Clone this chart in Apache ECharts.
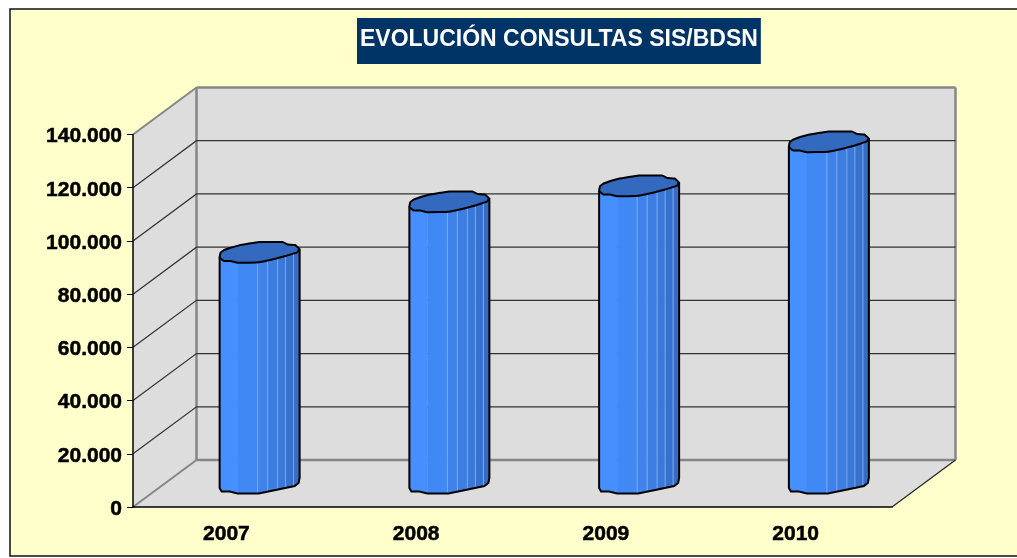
<!DOCTYPE html>
<html><head><meta charset="utf-8">
<style>html,body{margin:0;padding:0;background:#fff}#c{width:1017px;height:558px}</style>
<script src="https://cdn.jsdelivr.net/npm/echarts@6/dist/echarts.min.js"></script>
</head><body><div id="c"></div>
<script>
const titleText = 'EVOLUCIÓN CONSULTAS SIS/BDSN';
const categories = ['2007','2008','2009','2010'];
const consultas = [86800,105800,111800,128350];
const yTicks = [0,20000,40000,60000,80000,100000,120000,140000];
const FONT = '"Liberation Sans", Arial, sans-serif';
const DX = 63.5, DY = -47;           // depth of the 3D box
// column outline, relative to the column centre
const topOutline = [[-40,4.5],[-39,0],[-35.5,-2.5],[-20.5,-7.2],[-0.5,-10.5],[23,-10.5],[28,-8],[35.5,-7.5],[39.5,-4],[38,-0.5],[26,3.5],[-1,9.8],[-22,10.2],[-29,8.5],[-35.5,8.5],[-39,6]];
const baseOutline = [[-40,4.5],[-38,8],[-30,8],[-22,10],[-1,10],[16,6.5],[35,2.5],[39,-0.5],[40,-5.5]];
const strips = [[-40,-22,'#458FFF'],[-22,-2,'#4088F4'],[-2,8,'#3E82EA'],[8,18,'#3C7EE2'],[18,26,'#3A78D9'],[26,34,'#3771CE'],[34,40,'#356CC4']];
const seams = [-2,8,18,26,34];

const wallsItem = (params, api) => {
  const g = params.coordSys;
  const x0 = g.x, x1 = g.x + g.width, y0 = g.y, y1 = g.y + g.height;
  const wall = '#DDDDDD', edge = '#868686';
  const poly = pts => ({type:'polygon',shape:{points:pts},style:{fill:wall,stroke:null}});
  const line = (a,b,c,w) => ({type:'line',shape:{x1:a[0],y1:a[1],x2:b[0],y2:b[1]},style:{stroke:c,lineWidth:w}});
  return {type:'group',children:[
    poly([[x0,y1],[x0+DX,y1+DY],[x0+DX,y0+DY],[x0,y0]]),
    poly([[x0+DX,y0+DY],[x1+DX,y0+DY],[x1+DX,y1+DY],[x0+DX,y1+DY]]),
    poly([[x0,y1],[x1,y1],[x1+DX,y1+DY],[x0+DX,y1+DY]]),
    line([x0,y0],[x0+DX,y0+DY],edge,2),
    line([x0,y1],[x0+DX,y1+DY],edge,2),
    line([x0+DX,y0+DY],[x0+DX,y1+DY],edge,2.5),
    line([x0+DX,y0+DY],[x1+DX,y0+DY],edge,2.5),
    line([x1+DX,y0+DY],[x1+DX,y1+DY],edge,2.5),
    line([x0+DX,y1+DY],[x1+DX,y1+DY],edge,2.5),
    line([x1,y1],[x1+DX,y1+DY],'#222',1.2)
  ]};
};
const gridItem = (params, api) => {
  const g = params.coordSys;
  const y = api.coord([0,api.value(1)])[1];
  const xa = g.x, xb = g.x + DX, xc = g.x + g.width + DX;
  return {type:'polyline',shape:{points:[[xa,y],[xb,y+DY],[xc,y+DY]]},style:{fill:null,stroke:'#333',lineWidth:1.2}};
};
const barItem = (params, api) => {
  const top = api.coord([api.value(0), api.value(1)]);
  const base = api.coord([api.value(0), 0]);
  const cx = top[0] + DX/2, ty = top[1] + DY/2, by = base[1] + DY/2;
  const kids = [];
  const lower = baseOutline.map(p => [cx+p[0], by+p[1]]);
  const yAt = x => {
    for (let i=0;i<baseOutline.length-1;i++){
      const a=baseOutline[i],b=baseOutline[i+1];
      if (x>=a[0]&&x<=b[0]) return by+a[1]+(b[1]-a[1])*(x-a[0])/((b[0]-a[0])||1);
    }
    return by;
  };
  strips.forEach(s => {
    const pts = [[cx+s[0],ty],[cx+s[1]+0.3,ty]];
    const xs = baseOutline.map(p=>p[0]).filter(x=>x>s[0]&&x<s[1]).reverse();
    pts.push([cx+s[1]+0.3,yAt(s[1])]);
    xs.forEach(x=>pts.push([cx+x,yAt(x)]));
    pts.push([cx+s[0],yAt(s[0])]);
    kids.push({type:'polygon',shape:{points:pts},style:{fill:s[2]}});
  });
  seams.forEach(s => {
    kids.push({type:'line',shape:{x1:cx+s,y1:ty,x2:cx+s,y2:yAt(s)},style:{stroke:'#7FA9EA',lineWidth:1}});
  });
  kids.push({type:'polyline',shape:{points:[[cx-40,ty+4.5]].concat(lower).concat([[cx+40,ty-4]])},style:{fill:null,stroke:'#000',lineWidth:2}});
  kids.push({type:'polygon',shape:{points:topOutline.map(p=>[cx+p[0],ty+p[1]]),smooth:0.08},style:{fill:'#3369BE',stroke:'#000',lineWidth:2}});
  return {type:'group',children:kids};
};

const labelStyle = {color:'#000',fontFamily:FONT,fontWeight:'bold',fontSize:21,textBorderColor:'#000',textBorderWidth:0.5};
const chart = echarts.init(document.getElementById('c'), null, {renderer:'canvas'});
chart.setOption({
  animation:false,
  backgroundColor:'#FFFFFF',
  title:{text:titleText,left:357,top:18,padding:[9,3,12,3],backgroundColor:'#003366',
    textStyle:{color:'#FFFFFF',fontFamily:FONT,fontWeight:'bold',fontSize:23,lineHeight:25}},
  grid:{left:133,top:134.5,width:759,height:372.5},
  graphic:[{type:'rect',z:-10,shape:{x:10,y:9,width:1020,height:547},style:{fill:'#FFFFCC',stroke:'#111',lineWidth:1.5}}],
  xAxis:{type:'category',data:categories,z:5,
    axisLine:{lineStyle:{color:'#000',width:1.5}},
    axisTick:{length:6,lineStyle:{color:'#000',width:1}},
    axisLabel:Object.assign({margin:17,padding:[0,3,0,0]},labelStyle)},
  yAxis:{type:'value',min:0,max:140000,interval:20000,z:5,
    splitLine:{show:false},
    axisLine:{show:true,lineStyle:{color:'#000',width:1.5}},
    axisTick:{show:true,length:6,lineStyle:{color:'#000',width:1}},
    axisLabel:Object.assign({margin:11,verticalAlign:'top',lineHeight:24,padding:[-10,0,0,0],
      formatter:v=>String(v).replace(/\B(?=(\d{3})+$)/g,'.')},labelStyle)},
  series:[
    {type:'custom',z:1,silent:true,renderItem:wallsItem,data:[[0,0]]},
    {type:'custom',z:1.5,silent:true,renderItem:gridItem,data:yTicks.slice(1,-1).map(v=>[0,v])},
    {type:'custom',z:2,renderItem:barItem,data:consultas.map((v,i)=>[i,v])}
  ]
});
</script></body></html>
